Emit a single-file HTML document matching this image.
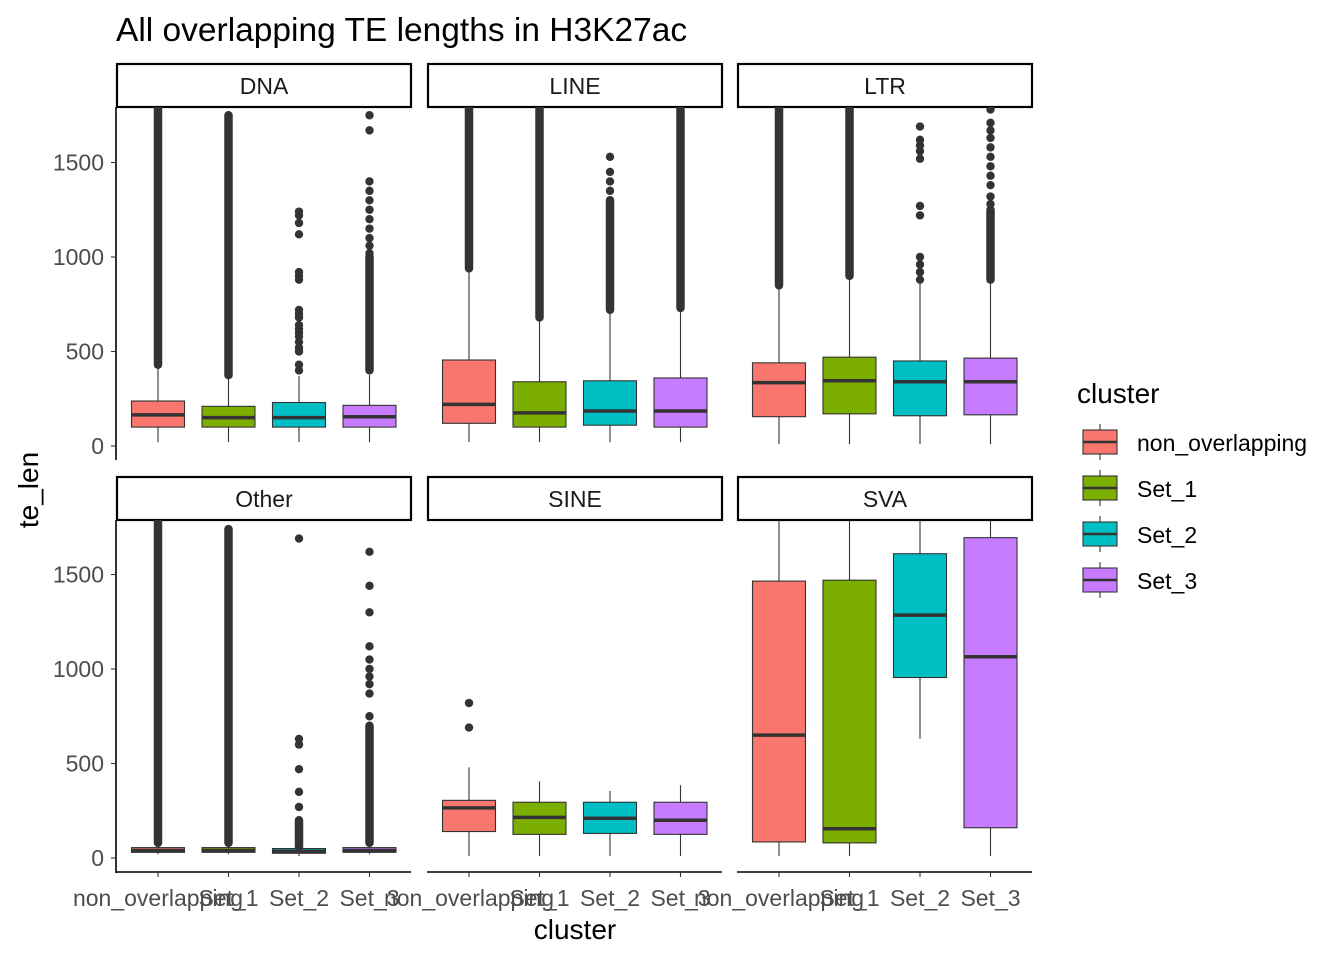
<!DOCTYPE html>
<html><head><meta charset="utf-8">
<style>
html,body{margin:0;padding:0;background:#fff;}
svg{display:block;font-family:"Liberation Sans",Arial,sans-serif;}
</style></head>
<body>
<svg id="chart" width="1344" height="960" viewBox="0 0 1344 960" xmlns="http://www.w3.org/2000/svg">
<rect width="1344" height="960" fill="#fff"/>
<text x="116" y="41" font-size="33.5" fill="#000">All overlapping TE lengths in H3K27ac</text>
<text x="575" y="939" font-size="28" text-anchor="middle" fill="#000">cluster</text>
<text transform="translate(38,490) rotate(-90)" font-size="28" text-anchor="middle" fill="#000">te_len</text>
<g id="panels"></g>
<g id="legend"></g>
</svg>
<script>
const categories = ["non_overlapping","Set_1","Set_2","Set_3"];
const facets = ["DNA","LINE","LTR","Other","SINE","SVA"];
const colors = ["#F8766D","#7CAE00","#00BFC4","#C77CFF"];
const yTicks = [0,500,1000,1500];
// per facet, per category: [lowWhisker, q1, median, q3, highWhisker]
const boxStats = [
 [[20,100,165,238,430],[20,100,150,210,375],[20,100,150,230,370],[20,100,155,215,375]],
 [[20,120,220,455,940],[20,100,175,340,680],[20,110,185,345,700],[20,100,185,360,730]],
 [[10,155,335,440,850],[10,170,345,470,900],[10,160,340,450,860],[10,165,340,465,880]],
 [[20,30,40,55,80],[20,30,40,55,80],[10,25,35,50,60],[20,30,40,55,80]],
 [[10,140,265,305,480],[10,125,215,295,405],[10,130,210,295,355],[10,125,200,295,385]],
 [[10,85,650,1465,1800],[10,80,155,1470,1800],[630,955,1285,1610,1800],[10,160,1065,1695,1800]]
];
// dense outlier runs [from, to]
const denseOutliers = [
 [[[430,1800]],[[375,1750]],[],[[400,1000]]],
 [[[940,1800]],[[680,1800]],[[720,1300]],[[730,1800]]],
 [[[850,1800]],[[900,1800]],[],[[880,1250]]],
 [[[80,1800]],[[80,1740]],[[60,200]],[[80,700]]],
 [[],[],[],[]],
 [[],[],[],[]]
];
// sparse outlier points
const sparseOutliers = [
 [[],[],[400,430,500,520,550,580,600,620,640,680,700,720,880,900,920,1120,1180,1220,1240],[1020,1060,1100,1150,1200,1250,1300,1350,1400,1670,1750]],
 [[],[],[1350,1400,1450,1530],[]],
 [[],[],[880,920,960,1000,1220,1270,1520,1560,1590,1620,1690],[1280,1320,1380,1430,1480,1530,1580,1630,1670,1710,1780]],
 [[],[],[270,350,470,600,630,1690],[750,870,920,960,1000,1050,1120,1300,1440,1620]],
 [[690,820],[],[],[]],
 [[],[],[],[]]
];
const NS="http://www.w3.org/2000/svg";
function mk(tag,attrs,parent){const e=document.createElementNS(NS,tag);for(const k in attrs)e.setAttribute(k,attrs[k]);parent.appendChild(e);return e;}
const panelsG=document.getElementById('panels');
const colX=[117,428,738], panelW=294;
const rowTop=[107,520], zeroY=[446,858];
const pxPerUnit=94.5/500;
const yMax=1795;
function yScale(row,v){return zeroY[row]-Math.min(v,yMax)*pxPerUnit;}
function xScale(col,i){return colX[col]+41+i*70.5;}
facets.forEach((f,fi)=>{
 const col=fi%3,row=Math.floor(fi/3);
 const x0=colX[col],top=rowTop[row],bot=top+353;
 const g=mk('g',{},panelsG);
 
 
 const strip=mk('rect',{x:x0,y:top-43,width:panelW,height:43,fill:'#fff',stroke:'#000','stroke-width':2.2},g);
 
 
 const st=mk('text',{x:x0+panelW/2,y:top-13,'font-size':23,'text-anchor':'middle',fill:'#1a1a1a'},g);
 st.textContent=f;
 
 
 const cid='clip'+fi;
 const cp=mk('clipPath',{id:cid},g);mk('rect',{x:x0,y:top,width:panelW,height:353},cp);
 const inner=mk('g',{'clip-path':'url(#'+cid+')'},g);
 categories.forEach((c,ci)=>{
  const s=boxStats[fi][ci],cx=xScale(col,ci),hw=26.5;
  const bg=mk('g',{},inner);
  
  
  mk('line',{x1:cx,x2:cx,y1:yScale(row,s[0]),y2:yScale(row,s[1]),stroke:'#333','stroke-width':1.1},bg);
  mk('line',{x1:cx,x2:cx,y1:yScale(row,s[3]),y2:yScale(row,s[4]),stroke:'#333','stroke-width':1.1},bg);
  mk('rect',{x:cx-hw,y:yScale(row,s[3]),width:2*hw,height:yScale(row,s[1])-yScale(row,s[3]),fill:colors[ci],stroke:'#333','stroke-width':1.1},bg);
  mk('line',{x1:cx-hw,x2:cx+hw,y1:yScale(row,s[2]),y2:yScale(row,s[2]),stroke:'#333','stroke-width':3.5},bg);
  denseOutliers[fi][ci].forEach(r=>{
   const d=mk('line',{x1:cx,x2:cx,y1:yScale(row,r[0]),y2:yScale(row,r[1]),stroke:'#333','stroke-width':8.5,'stroke-linecap':'round'},bg);
   
   
  });
  sparseOutliers[fi][ci].forEach(v=>{
   const p=mk('circle',{cx:cx,cy:yScale(row,v),r:4.2,fill:'#333'},bg);
   
   
  });
 });
 if(col===0){
  mk('line',{x1:x0-1,x2:x0-1,y1:top,y2:bot,stroke:'#000','stroke-width':1.6},g);
  yTicks.forEach(t=>{
   const y=yScale(row,t);
   mk('line',{x1:x0-6,x2:x0-1,y1:y,y2:y,stroke:'#333','stroke-width':1.1},g);
   const tl=mk('text',{x:x0-13,y:y+8,'font-size':23,'text-anchor':'end',fill:'#4d4d4d'},g);
   tl.textContent=t;
   
   
  });
 }
 if(row===1){
  mk('line',{x1:x0-1,x2:x0+panelW,y1:bot-1,y2:bot-1,stroke:'#000','stroke-width':1.6},g);
  categories.forEach((c,ci)=>{
   const cx=xScale(col,ci);
   mk('line',{x1:cx,x2:cx,y1:bot-1,y2:bot+4,stroke:'#333','stroke-width':1.1},g);
   const tl=mk('text',{x:cx,y:bot+33,'font-size':23,'text-anchor':'middle',fill:'#4d4d4d'},g);
   tl.textContent=c;
   
   
  });
 }
});
const lg=document.getElementById('legend');
const lt=mk('text',{x:1077,y:403,'font-size':28,fill:'#000'},lg);
lt.textContent='cluster';


categories.forEach((c,ci)=>{
 const y=430+ci*46;
 const e=mk('g',{},lg);
 
 
 mk('line',{x1:1100,x2:1100,y1:y-6,y2:y+30,stroke:'#333','stroke-width':1.1},e);
 mk('rect',{x:1083,y:y,width:34,height:24,fill:colors[ci],stroke:'#333','stroke-width':1.1},e);
 mk('line',{x1:1083,x2:1117,y1:y+12,y2:y+12,stroke:'#333','stroke-width':2.5},e);
 const t=mk('text',{x:1137,y:y+21,'font-size':23,fill:'#000'},e);
 t.textContent=c;
});
</script>
</body></html>
